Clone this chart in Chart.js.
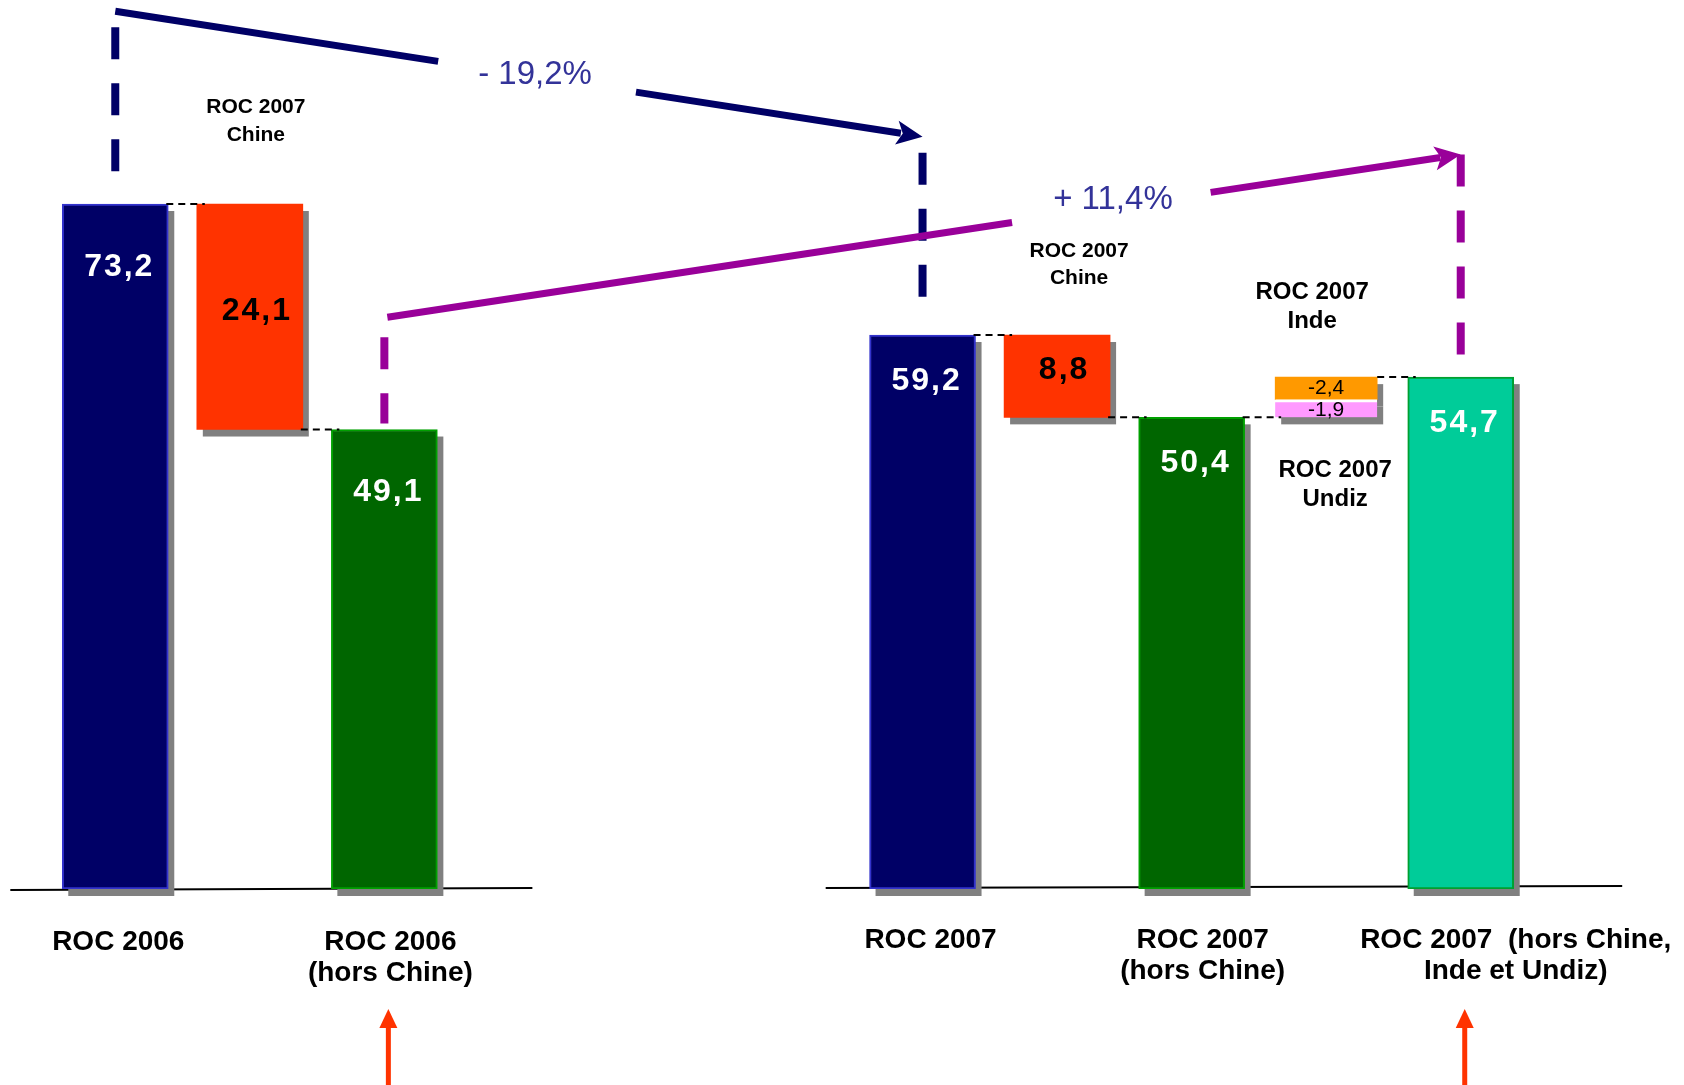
<!DOCTYPE html>
<html>
<head>
<meta charset="utf-8">
<title>ROC 2006 / 2007</title>
<script src="https://cdn.jsdelivr.net/npm/chart.js@4.4.1/dist/chart.umd.min.js"></script>
<style>
    html, body { margin: 0; padding: 0; background: #fff; }
    #wrap { width: 1684px; height: 1085px; position: relative; }
</style>
</head>
<body>
<div id="wrap"><canvas id="roc-chart"></canvas></div>
<script>
/*jshint esversion: 9 */

// slots of the category axis, empty ones make the gap between 2006 and 2007
const categories = ['ROC 2006', 'ROC 2007 Chine', 'ROC 2006 (hors Chine)', '', '', '', 'ROC 2007', 'ROC 2007 Chine', 'ROC 2007 (hors Chine)', 'ROC 2007 Inde / Undiz', 'ROC 2007 (hors Chine, Inde et Undiz)'];
const totalValues = [73.2, null, 49.1, null, null, null, 59.2, null, 50.4, null, 54.7];
const chineValues = [null, 24.1, null, null, null, null, null, 8.8, null, null, null];
const indeValues = [null, null, null, null, null, null, null, null, null, -2.4, null];
const undizValues = [null, null, null, null, null, null, null, null, null, -1.9, null];
const tickLabels = [['ROC 2006'], [], ['ROC 2006', '(hors Chine)'], [], [], [], ['ROC 2007'], [], ['ROC 2007', '(hors Chine)'], [], ['ROC 2007  (hors Chine,', 'Inde et Undiz)']];
const variationLabels = ['- 19,2%', '+ 11,4%'];

const FONT = '"Liberation Sans", Arial, sans-serif';
const totalColors = ['#000066', null, '#006600', null, null, null, '#000066', null, '#006600', null, '#00cc99'];
const totalBorders = ['#3333cc', null, '#00a000', null, null, null, '#3333cc', null, '#00a000', null, '#00a030'];

const fmt = v => v.toFixed(1).replace('.', ',');

// floating ranges built from the values above
const totalData = totalValues.map(v => v === null ? null : [0, v]);
const chineData = chineValues.map((v, i) => v === null ? null : [totalValues[i - 1] - v, totalValues[i - 1]]);
const undizData = undizValues.map((v, i) => v === null ? null : [totalValues[i - 1], totalValues[i - 1] - v]);
const indeData = indeValues.map((v, i) => v === null ? null : [totalValues[i - 1] - undizValues[i], totalValues[i - 1] - undizValues[i] - v]);


const dashedVertical = (ctx, x, y0, y1, color) => {
    ctx.save();
    ctx.strokeStyle = color;
    ctx.lineWidth = 8;
    ctx.setLineDash([32, 24]);
    ctx.beginPath();
    ctx.moveTo(x, y0);
    ctx.lineTo(x, y1);
    ctx.stroke();
    ctx.restore();
};

const trendArrow = (ctx, p0, p1, gap, color) => {
    const lerp = t => [p0[0] + (p1[0] - p0[0]) * t, p0[1] + (p1[1] - p0[1]) * t];
    const len = Math.hypot(p1[0] - p0[0], p1[1] - p0[1]);
    const head = 26;
    const tEnd = 1 - head / len;
    ctx.save();
    ctx.strokeStyle = color;
    ctx.fillStyle = color;
    ctx.lineWidth = 7;
    [[0, gap[0]], [gap[1], tEnd + 0.005]].forEach(([a, b]) => {
        const s = lerp(a), e = lerp(b);
        ctx.beginPath();
        ctx.moveTo(s[0], s[1]);
        ctx.lineTo(e[0], e[1]);
        ctx.stroke();
    });
    const ux = (p1[0] - p0[0]) / len, uy = (p1[1] - p0[1]) / len;
    const b = lerp(tEnd);
    ctx.beginPath();
    ctx.moveTo(p1[0], p1[1]);
    ctx.lineTo(b[0] - uy * 12, b[1] + ux * 12);
    ctx.lineTo(b[0] + ux * 6, b[1] + uy * 6);
    ctx.lineTo(b[0] + uy * 12, b[1] - ux * 12);
    ctx.closePath();
    ctx.fill();
    ctx.restore();
};

const text = (ctx, str, x, y, font, color, align) => {
    ctx.font = font;
    ctx.fillStyle = color;
    ctx.textAlign = align || 'center';
    ctx.textBaseline = 'middle';
    ctx.fillText(str, x, y);
};


const annotations = {
    id: 'roc_annotations',

    beforeDatasetsDraw: chart => {
        const ctx = chart.ctx;
        const xs = chart.scales.x, ys = chart.scales.y;
        const slot = xs.width / categories.length;
        const px = i => xs.getPixelForValue(0) + i * slot;
        const y0 = ys.getPixelForValue(0);

        // the two base lines
        ctx.save();
        ctx.strokeStyle = '#000';
        ctx.lineWidth = 2;
        [[-0.78, 3.1, 1, -1], [5.28, 11.2, -1, -3]].forEach(([a, b, da, db]) => {
            ctx.beginPath();
            ctx.moveTo(px(a), y0 + da);
            ctx.lineTo(px(b), y0 + db);
            ctx.stroke();
        });

        // gray drop shadow behind every bar
        ctx.fillStyle = '#808080';
        chart.data.datasets.forEach((ds, d) => {
            chart.getDatasetMeta(d).data.forEach((e, i) => {
                if (ds.data[i] === null) return;
                const t = Math.min(e.y, e.base), h = Math.abs(e.base - e.y);
                ctx.fillRect(e.x - e.width / 2 + 6, t + 7, e.width, h);
            });
        });
        ctx.restore();
    },

    afterDatasetsDraw: chart => {
        const ctx = chart.ctx;
        const ys = chart.scales.y;
        const el = (d, i) => chart.getDatasetMeta(d).data[i];

        // waterfall connectors
        const connectors = [[0, 1, totalValues[0]], [1, 2, totalValues[2]], [6, 7, totalValues[6]],
            [7, 8, totalValues[8]], [8, 9, totalValues[8]], [9, 10, totalValues[10]]];
        ctx.save();
        ctx.strokeStyle = '#000';
        ctx.lineWidth = 2;
        ctx.setLineDash([7, 5]);
        connectors.forEach(([a, b, level]) => {
            const y = ys.getPixelForValue(level);
            const xa = el(0, a).x + el(0, a).width / 2;
            const xb = el(0, b).x - el(0, b).width / 2;
            ctx.beginPath();
            ctx.moveTo(xa, y);
            ctx.lineTo(xb + 6, y);
            ctx.stroke();
        });
        ctx.restore();

        // values in the bars
        ctx.save();
        ctx.letterSpacing = '2px';
        totalValues.forEach((v, i) => {
            if (v === null) return;
            const e = chart.getDatasetMeta(3).data[i];
            text(ctx, fmt(v), e.x + 4, e.y + (i < 5 ? 63 : 46), 'bold 32px ' + FONT, '#fff');
        });
        chineValues.forEach((v, i) => {
            if (v === null) return;
            const e = chart.getDatasetMeta(2).data[i];
            text(ctx, fmt(v), e.x + 7, (e.y + e.base) / 2 - 6, 'bold 32px ' + FONT, '#000');
        });
        ctx.letterSpacing = '0px';
        [[undizValues, 0, 2], [indeValues, 1, 0]].forEach(([values, d, dy]) => {
            values.forEach((v, i) => {
                if (v === null) return;
                const e = chart.getDatasetMeta(d).data[i];
                text(ctx, fmt(v), e.x, (e.y + e.base) / 2 + dy, '21px ' + FONT, '#000');
            });
        });
        ctx.restore();
    },

    afterDraw: chart => {
        const ctx = chart.ctx;
        const xs = chart.scales.x, ys = chart.scales.y;
        const cx = i => xs.getPixelForValue(i);
        const py = v => ys.getPixelForValue(v);
        const top = i => py(totalValues[i]);

        // - 19,2% : ROC 2006 -> ROC 2007
        const n0 = [cx(0), py(93.8)], n1 = [cx(6), py(80.4)];
        trendArrow(ctx, n0, n1, [0.4, 0.645], '#000066');
        dashedVertical(ctx, n0[0], n0[1] + 16, top(0) - 18, '#000066');
        dashedVertical(ctx, n1[0], n1[1] + 16, top(6) - 18, '#000066');
        text(ctx, variationLabels[0], n0[0] + (n1[0] - n0[0]) * 0.52, n0[1] + (n1[1] - n0[1]) * 0.52 - 2, '33px ' + FONT, '#333399');

        // + 11,4% : ROC 2006 hors Chine -> ROC 2007 hors Chine, Inde et Undiz
        const p0 = [cx(2) + 3, py(61.1)], p1 = [cx(10), py(78.5)];
        trendArrow(ctx, p0, p1, [0.582, 0.767], '#990099');
        dashedVertical(ctx, p0[0] - 3, p0[1] + 20, top(2) - 6, '#990099');
        dashedVertical(ctx, p1[0], p1[1], top(10) - 20, '#990099');
        text(ctx, variationLabels[1], p0[0] + (p1[0] - p0[0]) * 0.676, p0[1] + (p1[1] - p0[1]) * 0.676 - 7, '33px ' + FONT, '#333399');

        // small headers over the variation bars
        const headers = [
            [1, 6, 83.5, 'ROC 2007', 21], [1, 6, 80.6, 'Chine', 21],
            [7, 22, 68.2, 'ROC 2007', 21], [7, 22, 65.3, 'Chine', 21],
            [9, -14, 63.8, 'ROC 2007', 24], [9, -14, 60.7, 'Inde', 24],
            [9, 9, 44.7, 'ROC 2007', 24], [9, 9, 41.6, 'Undiz', 24],
        ];
        headers.forEach(([i, dx, v, str, size]) => text(ctx, str, cx(i) + dx, py(v), 'bold ' + size + 'px ' + FONT, '#000'));

        // category labels under the base line
        const shift = [3, 0, 6, 0, 0, 0, 8, 0, 11, 0, 55];
        const y0 = py(0);
        tickLabels.forEach((lines, i) => {
            lines.forEach((str, j) => text(ctx, str, cx(i) + shift[i], y0 + (i < 5 ? 53 : 51) + j * 31, 'bold 28px ' + FONT, '#000'));
        });

        // red pointers under the two comparable totals
        ctx.save();
        ctx.strokeStyle = '#ff3300';
        ctx.fillStyle = '#ff3300';
        ctx.lineWidth = 5;
        [2, 10].forEach(i => {
            const x = cx(i) + 4;
            ctx.beginPath();
            ctx.moveTo(x, chart.height);
            ctx.lineTo(x, y0 + 136);
            ctx.stroke();
            ctx.beginPath();
            ctx.moveTo(x, y0 + 120);
            ctx.lineTo(x - 9, y0 + 139);
            ctx.lineTo(x + 9, y0 + 139);
            ctx.closePath();
            ctx.fill();
        });
        ctx.restore();
    },
};


const config = {
    type: 'bar',
    data: {
        labels: categories,
        datasets: [
            {
                label: 'Undiz',
                data: undizData,
                backgroundColor: '#ff99ff',
                borderColor: '#fff',
                borderWidth: { top: 3, left: 0, right: 0, bottom: 0 },
                barThickness: 102,
            },
            {
                label: 'Inde',
                data: indeData,
                backgroundColor: '#ff9900',
                borderWidth: 0,
                barThickness: 102,
            },
            {
                label: 'Chine',
                data: chineData,
                backgroundColor: '#ff3300',
                borderWidth: 0,
            },
            {
                label: 'ROC',
                data: totalData,
                backgroundColor: totalColors,
                borderColor: totalBorders,
                borderWidth: 2,
            },
        ],
    },
    options: {
        responsive: true,
        maintainAspectRatio: false,
        animation: false,
        events: [],
        layout: { padding: { left: 48, right: 156, top: 0, bottom: 196 } },
        datasets: {
            bar: {
                grouped: false,
                barThickness: 106,
                borderSkipped: false,
            },
        },
        plugins: {
            legend: { display: false },
            tooltip: { enabled: false },
        },
        scales: {
            x: { display: false },
            y: { display: false, min: 0, max: 95 },
        },
    },
    plugins: [annotations],
};

new Chart(document.getElementById('roc-chart'), config);
</script>
</body>
</html>
